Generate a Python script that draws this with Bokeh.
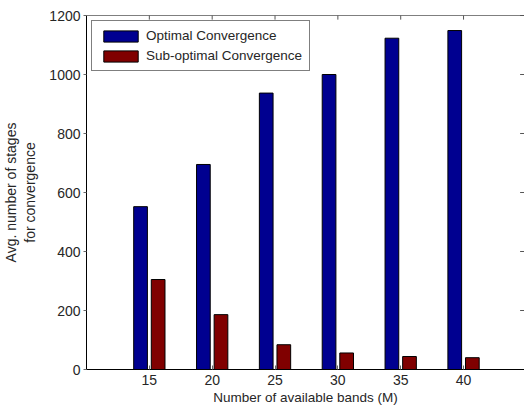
from bokeh.plotting import figure
from bokeh.models import Range1d, FixedTicker, Legend, LegendItem, Span
from bokeh.embed import file_html
from bokeh.resources import INLINE

bands = [15, 20, 25, 30, 35, 40]
optimal = [552, 695, 937, 1000, 1123, 1149]
suboptimal = [305, 186, 84, 56, 44, 40]
y_ticks = [0, 200, 400, 600, 800, 1000, 1200]

FONT = "Liberation Sans"
TXT = "#262626"
X_START, X_END = 10.0, 44.85
Y_END = 1200

p = figure(width=524, height=408, output_backend="svg", toolbar_location=None,
           x_range=Range1d(X_START, X_END), y_range=Range1d(0, Y_END),
           min_border_left=83, min_border_right=0, min_border_top=15,
           min_border_bottom=39)
p.outline_line_color = None
p.background_fill_color = "white"
p.border_fill_color = "white"
p.xgrid.visible = False
p.ygrid.visible = False

off = 0.7
w = 1.09
r1 = p.vbar(x=[b - off for b in bands], top=optimal, width=w, bottom=0,
            fill_color="#000090", line_color="black", line_width=1)
r2 = p.vbar(x=[b + off for b in bands], top=suboptimal, width=w, bottom=0,
            fill_color="#800000", line_color="black", line_width=1)

# box: top edge line, inward ticks on top and right edges
p.add_layout(Span(location=Y_END, dimension="width", line_color="black", line_width=1))
p.segment(x0=[X_END - 0.35] * len(y_ticks), x1=[X_END] * len(y_ticks),
          y0=y_ticks, y1=y_ticks, line_color="#555555", line_width=1)
p.segment(x0=bands, x1=bands, y0=[Y_END] * len(bands), y1=[Y_END - 14] * len(bands),
          line_color="#555555", line_width=1)

xa = p.xaxis[0]
xa.ticker = FixedTicker(ticks=bands)
xa.major_tick_in = 4
xa.major_tick_out = 0
xa.minor_tick_line_color = None
xa.axis_line_color = "black"
xa.major_tick_line_color = "#666666"
xa.major_label_text_font = FONT
xa.major_label_text_font_size = "14px"
xa.major_label_text_color = TXT
xa.major_label_standoff = 5
xa.axis_label = "Number of available bands (M)"
xa.axis_label_text_font = FONT
xa.axis_label_text_font_size = "13.5px"
xa.axis_label_text_font_style = "normal"
xa.axis_label_text_color = TXT
xa.axis_label_standoff = 2

ya = p.yaxis[0]
ya.ticker = FixedTicker(ticks=y_ticks)
ya.major_tick_in = 0
ya.major_tick_out = 3
ya.minor_tick_line_color = None
ya.axis_line_color = "black"
ya.major_tick_line_color = "#666666"
ya.major_label_text_font = FONT
ya.major_label_text_font_size = "14px"
ya.major_label_text_color = TXT
ya.major_label_standoff = 3
ya.axis_label = "Avg. number of stages\nfor convergence"
ya.axis_label_text_font = FONT
ya.axis_label_text_font_size = "14px"
ya.axis_label_text_font_style = "normal"
ya.axis_label_text_color = TXT
ya.axis_label_standoff = 8

legend = Legend(items=[LegendItem(label="Optimal Convergence", renderers=[r1]),
                       LegendItem(label="Sub-optimal Convergence", renderers=[r2])],
                location=(5, 298), orientation="vertical",
                glyph_width=43, glyph_height=14, label_height=14,
                label_standoff=4, spacing=5, padding=7, margin=0,
                label_text_font=FONT, label_text_font_size="13.5px",
                label_text_color=TXT,
                border_line_color="black", border_line_width=1,
                background_fill_color="white", background_fill_alpha=1)
p.add_layout(legend, "center")

open("out.html", "w").write(file_html(p, INLINE))
